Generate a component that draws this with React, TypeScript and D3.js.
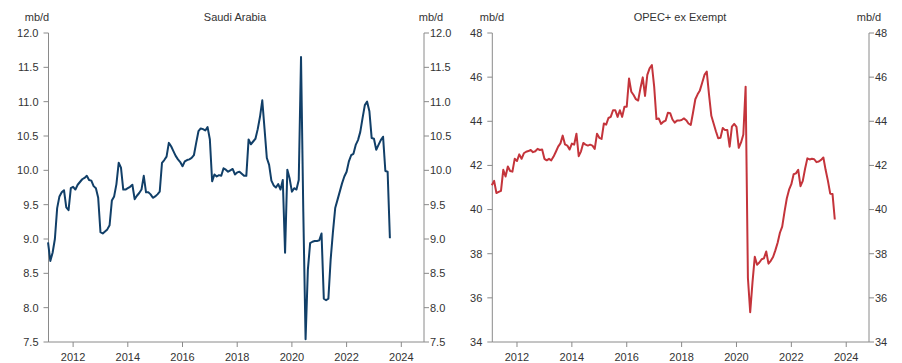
import React from "react";
import * as d3 from "d3";

const startYear = 2011;
const startMonth = 1; // Feb (0-based)

const saudi = [
  8.95, 8.68, 8.8, 9.0, 9.45, 9.62, 9.68, 9.71, 9.46, 9.42,
  9.74, 9.76, 9.72, 9.79, 9.83, 9.87, 9.89, 9.92, 9.86, 9.85,
  9.77, 9.74, 9.6, 9.1, 9.08, 9.11, 9.14, 9.2, 9.56, 9.62,
  9.8, 10.11, 10.04, 9.72, 9.72, 9.74, 9.76, 9.79, 9.58, 9.63,
  9.67, 9.72, 9.92, 9.68, 9.68, 9.65, 9.6, 9.62, 9.65, 9.69,
  10.11, 10.15, 10.2, 10.4, 10.35, 10.28, 10.21, 10.16, 10.12, 10.06,
  10.13, 10.15, 10.16, 10.18, 10.22, 10.4, 10.57, 10.61, 10.6, 10.58,
  10.63, 10.45, 9.84, 9.94, 9.91, 9.93, 9.92, 10.03, 10.01, 9.98,
  10.0, 10.02, 9.94, 9.97, 9.98, 9.95, 9.92, 9.92, 10.45, 10.38,
  10.42, 10.46, 10.6, 10.78, 11.02, 10.6, 10.18, 10.08, 9.85, 9.78,
  9.75, 9.8, 9.72, 9.86, 8.8, 10.01, 9.88, 9.69, 9.74, 9.72,
  9.86, 11.65, 9.4, 7.54, 8.55, 8.94, 8.96, 8.97, 8.97, 8.98,
  9.08, 8.13, 8.11, 8.13, 8.7, 9.1, 9.45, 9.57, 9.69, 9.81,
  9.91, 9.98, 10.13, 10.22, 10.24, 10.37, 10.44, 10.56, 10.76, 10.95,
  11.0, 10.86, 10.47, 10.46, 10.3, 10.37, 10.44, 10.49, 9.99, 9.98,
  9.01,
];

const opec = [
  41.1, 41.3, 40.75, 40.8, 40.85, 41.8, 41.5, 41.95, 41.75, 41.72,
  42.3, 42.2, 42.5, 42.3, 42.55, 42.62, 42.65, 42.7, 42.6, 42.64,
  42.75, 42.7, 42.72, 42.3, 42.23, 42.3, 42.23, 42.4, 42.62, 42.85,
  43.0, 43.35, 42.95, 42.9, 42.72, 42.99, 42.94, 43.44, 42.42, 42.64,
  43.02, 42.94, 42.9, 42.94, 42.9, 42.75, 43.44, 43.25, 43.2, 43.9,
  43.85, 44.15, 44.2, 44.5, 44.5, 44.2, 44.5, 44.2, 44.66, 44.66,
  45.94, 45.34, 45.19, 45.0, 44.94, 45.5, 45.99, 45.15, 46.1, 46.4,
  46.55, 45.57, 44.1, 44.13, 43.88, 43.98, 44.03, 44.39, 44.37, 44.08,
  43.94, 44.03, 44.03, 44.06, 44.13, 44.05, 43.9, 43.83, 44.4, 45.0,
  45.22, 45.4, 45.75, 46.1, 46.25, 45.2, 44.25, 43.9, 43.55, 43.23,
  43.25, 43.7, 43.6, 43.6, 42.85, 43.76, 43.88, 43.75, 42.8, 43.04,
  43.4, 45.57, 36.9, 35.35, 36.7, 37.86, 37.5, 37.6, 37.75, 37.79,
  38.1, 37.55, 37.68, 37.85, 38.15, 38.5, 38.95, 39.23, 39.9, 40.5,
  40.9, 41.15, 41.6, 41.64, 41.8, 41.06, 41.3, 41.85, 42.32, 42.27,
  42.3, 42.28, 42.15, 42.18, 42.25, 42.36, 41.79, 41.3, 40.72, 40.71,
  39.55,
];

const xTicks = [2012, 2014, 2016, 2018, 2020, 2022, 2024];
const saudiTicks = [7.5, 8.0, 8.5, 9.0, 9.5, 10.0, 10.5, 11.0, 11.5, 12.0];
const opecTicks = [34, 36, 38, 40, 42, 44, 46, 48];

const toYear = (i: number) => startYear + (startMonth + i) / 12;

const FONT = "Liberation Sans, Arial, sans-serif";
const AXIS = "#8a8a8a";
const TXT = "#333";

type PanelProps = {
  x0: number;
  x1: number;
  title: string;
  titleX: number;
  unitL: number;
  unitR: number;
  values: number[];
  domain: [number, number];
  ticks: number[];
  fmt: (v: number) => string;
  color: string;
};

function Panel(p: PanelProps) {
  const top = 33;
  const bottom = 342;
  const x = d3.scaleLinear().domain([2011.1, 2024.83]).range([p.x0, p.x1]);
  const y = d3.scaleLinear().domain(p.domain).range([bottom, top]);
  const line = d3
    .line<number>()
    .x((_, i) => x(toYear(i)))
    .y((d) => y(d));
  return (
    <g>
      <text x={p.unitL} y={21} textAnchor="middle" fontSize={11} fill={TXT} fontFamily={FONT}>mb/d</text>
      <text x={p.titleX} y={21} textAnchor="middle" fontSize={11} fill={TXT} fontFamily={FONT}>{p.title}</text>
      <text x={p.unitR} y={21} textAnchor="middle" fontSize={11} fill={TXT} fontFamily={FONT}>mb/d</text>
      <line x1={p.x0} x2={p.x0} y1={top} y2={bottom} stroke={AXIS} />
      <line x1={p.x1} x2={p.x1} y1={top} y2={bottom} stroke={AXIS} />
      <line x1={p.x0} x2={p.x1} y1={bottom} y2={bottom} stroke={AXIS} />
      {p.ticks.map((t) => (
        <g key={t}>
          <line x1={p.x0 - 5} x2={p.x0} y1={y(t)} y2={y(t)} stroke={AXIS} />
          <line x1={p.x1} x2={p.x1 + 5} y1={y(t)} y2={y(t)} stroke={AXIS} />
          <text x={p.x0 - 10} y={y(t)} dy="0.35em" textAnchor="end" fontSize={11} fill={TXT} fontFamily={FONT}>{p.fmt(t)}</text>
          <text x={p.x1 + 6} y={y(t)} dy="0.35em" textAnchor="start" fontSize={11} fill={TXT} fontFamily={FONT}>{p.fmt(t)}</text>
        </g>
      ))}
      {xTicks.map((t) => (
        <g key={t}>
          <line x1={x(t)} x2={x(t)} y1={bottom} y2={bottom + 5} stroke={AXIS} />
          <text x={x(t)} y={361} textAnchor="middle" fontSize={11} fill={TXT} fontFamily={FONT}>{t}</text>
        </g>
      ))}
      <path d={line(p.values) || ""} fill="none" stroke={p.color} strokeWidth={2} strokeLinejoin="round" />
    </g>
  );
}

export default function App() {
  return (
    <svg width={902} height={363} style={{ position: "absolute", left: 0, top: 0, background: "#fff" }}>
      <Panel
        x0={48.5}
        x1={424}
        title="Saudi Arabia"
        titleX={235}
        unitL={37}
        unitR={431}
        values={saudi}
        domain={[7.5, 12]}
        ticks={saudiTicks}
        fmt={(v) => v.toFixed(1)}
        color="#113f68"
      />
      <Panel
        x0={492.3}
        x1={869}
        title="OPEC+ ex Exempt"
        titleX={680}
        unitL={492}
        unitR={869}
        values={opec}
        domain={[34, 48]}
        ticks={opecTicks}
        fmt={(v) => String(v)}
        color="#c4343b"
      />
    </svg>
  );
}
